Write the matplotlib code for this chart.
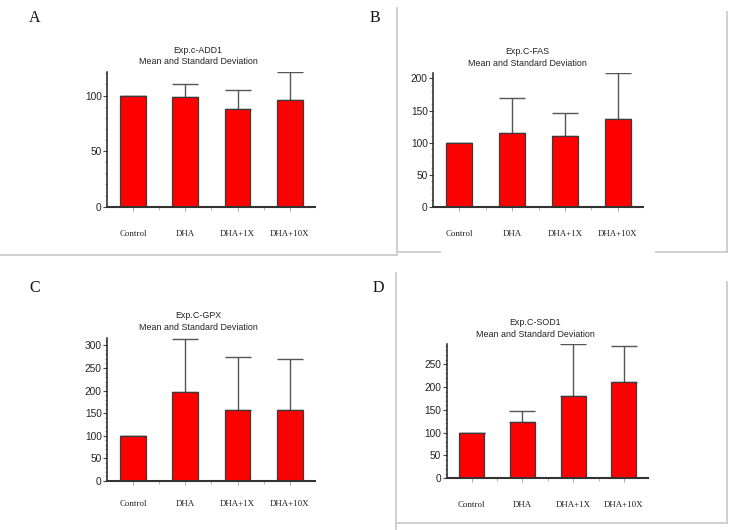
import matplotlib
matplotlib.use("Agg")
import matplotlib.pyplot as plt
from matplotlib.lines import Line2D
from matplotlib.ticker import MultipleLocator

W, H = 730, 530
fig = plt.figure(figsize=(W / 100, H / 100), dpi=100)

categories = ["Control", "DHA", "DHA+1X", "DHA+10X"]

# Panel data: means and upper error-bar lengths
add1_mean = [100, 99, 88, 96]
add1_sd = [0, 11, 17, 25]
fas_mean = [100, 115, 110.5, 137]
fas_sd = [0, 55, 36, 71]
gpx_mean = [100, 197.5, 156, 156]
gpx_sd = [0, 117, 119, 115]
sod1_mean = [100, 124, 180.5, 210]
sod1_sd = [0, 24, 113.5, 80]

titles = ["Exp.c-ADD1", "Exp.C-FAS", "Exp.C-GPX", "Exp.C-SOD1"]
letters = ["A", "B", "C", "D"]
yticks_list = [[0, 50, 100], [0, 50, 100, 150, 200],
               [0, 50, 100, 150, 200, 250, 300],
               [0, 50, 100, 150, 200, 250]]

SANS = ["Liberation Sans Narrow", "Liberation Sans", "DejaVu Sans"]
SERIF = ["Liberation Serif", "DejaVu Serif"]

panels = [
    dict(box=(107.3, 315, 206.7, 71.7), ytop=121.5, mean=add1_mean, sd=add1_sd,
         title_xy=(198, 56), letter_xy=(35, 18), label_y=233),
    dict(box=(433.3, 643.3, 206.7, 72.7), ytop=209, mean=fas_mean, sd=fas_sd,
         title_xy=(527, 57.5), letter_xy=(375, 18), label_y=233),
    dict(box=(107.3, 315, 481, 338.3), ytop=315.7, mean=gpx_mean, sd=gpx_sd,
         title_xy=(198, 321.5), letter_xy=(35, 288), label_y=503.5),
    dict(box=(446.7, 648.3, 478.3, 344), ytop=294, mean=sod1_mean, sd=sod1_sd,
         title_xy=(535, 328.5), letter_xy=(378, 288), label_y=504),
]

x = list(range(len(categories)))

for i, p in enumerate(panels):
    l, r, b, t = p["box"]
    ax = fig.add_axes([l / W, 1 - b / H, (r - l) / W, (b - t) / H])
    ax.bar(x, p["mean"], width=0.49, color="#ff0000", edgecolor="#3a3a3a",
           linewidth=0.9, zorder=2)
    ax.errorbar(x, p["mean"], yerr=[[0] * 4, p["sd"]], fmt="none",
                ecolor="#555555", elinewidth=1.0, capsize=9.2, capthick=1.0,
                zorder=1)
    ax.set_xlim(-0.49, 3.48)
    ax.set_ylim(0, p["ytop"])
    for s in ["top", "right"]:
        ax.spines[s].set_visible(False)
    ax.spines["left"].set_color("#222222")
    ax.spines["left"].set_linewidth(1.1)
    ax.spines["bottom"].set_color("#333333")
    ax.spines["bottom"].set_linewidth(1.5)
    ax.set_yticks(yticks_list[i])
    ax.yaxis.set_minor_locator(MultipleLocator(10))
    ax.tick_params(axis="y", which="major", length=3, width=0.8, color="#444444",
                   labelsize=7.3, pad=1, labelcolor="#222222")
    ax.tick_params(axis="y", which="minor", length=1.5, width=0.6, color="#888888")
    for lab in ax.get_yticklabels():
        lab.set_family(SANS)
    ax.set_xticks(x)
    ax.set_xticks([0.5, 1.5, 2.5], minor=True)
    pad_pt = (p["label_y"] - b - 4.5) * 0.72 - 2.2
    ax.set_xticklabels(categories, family=SERIF, fontsize=6.4, color="#222222")
    ax.tick_params(axis="x", which="major", length=3, width=0.7, color="#aaaaaa",
                   pad=pad_pt)
    ax.tick_params(axis="x", which="minor", length=2, width=0.6, color="#aaaaaa")
    ax.set_facecolor("none")

    tx, ty = p["title_xy"]
    fig.text(tx / W, 1 - ty / H, titles[i] + "\nMean and Standard Deviation",
             ha="center", va="center", fontsize=6.4, family=SANS,
             color="#222222", linespacing=1.35)
    lx, ly = p["letter_xy"]
    fig.text(lx / W, 1 - ly / H, letters[i], ha="center", va="center",
             fontsize=11.5, family=SERIF, color="#111111")


def fline(x0, y0, x1, y1):
    fig.add_artist(Line2D([x0 / W, x1 / W], [1 - y0 / H, 1 - y1 / H],
                          color="#cccccc", linewidth=1.3))


fline(0, 255, 396, 255)
fline(396.7, 8, 396.7, 255)
fline(396.7, 252, 440, 252)
fline(656, 252, 726.7, 252)
fline(726.7, 12, 726.7, 252)
fline(395.7, 273, 395.7, 530)
fline(726.7, 282, 726.7, 523)
fline(395.7, 523, 726.7, 523)

fig.savefig("out.png", dpi=100, facecolor="white")
